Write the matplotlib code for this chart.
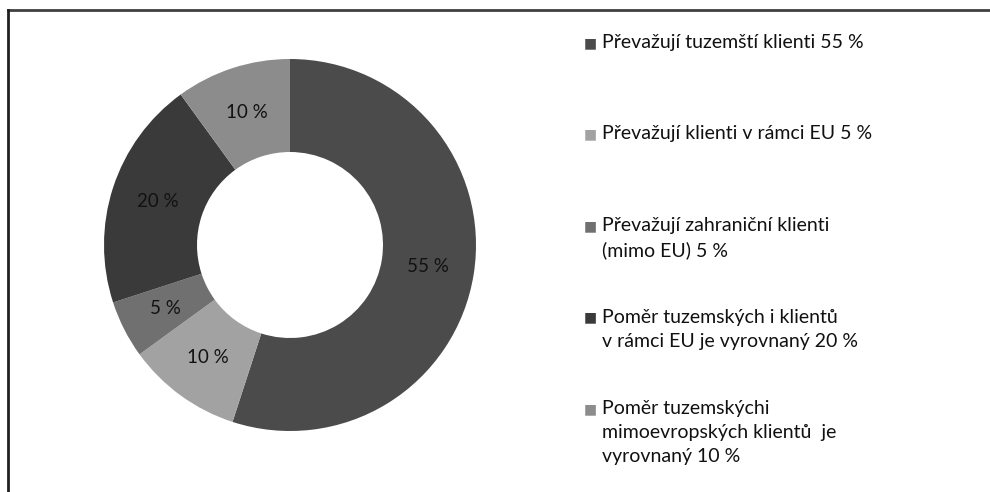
"""
Donut chart of client structure (share of domestic / EU / non-EU clients).

Output:
  - ./out.png
"""

import matplotlib.pyplot as plt
from matplotlib.lines import Line2D

# Slice values, clockwise from 12 o'clock
slice_values = [55, 10, 5, 20, 10]
slice_labels = ["55 %", "10 %", "5 %", "20 %", "10 %"]
slice_colors = ["#4b4b4b", "#a2a2a2", "#707070", "#3a3a3a", "#8c8c8c"]

# Legend texts as printed in the source (second entry says 5 %)
legend_texts = [
    "Převažují tuzemští klienti 55 %",
    "Převažují klienti v rámci EU 5 %",
    "Převažují zahraniční klienti\n(mimo EU) 5 %",
    "Poměr tuzemských i klientů\nv rámci EU je vyrovnaný 20 %",
    "Poměr tuzemskýchi\nmimoevropských klientů  je\nvyrovnaný 10 %",
]

W, H = 990, 492
FONT = ["Lato", "DejaVu Sans"]


def main() -> int:
    plt.rcParams["font.family"] = FONT
    fig = plt.figure(figsize=(W / 100, H / 100), dpi=100)

    # Donut: centre (290, 245) px from top-left, outer radius 186 px
    cx, cy, r = 290, 245, 186
    ax = fig.add_axes([(cx - r) / W, (H - cy - r) / H, 2 * r / W, 2 * r / H])
    ax.pie(
        slice_values,
        colors=slice_colors,
        startangle=90,
        counterclock=False,
        radius=1.0,
        labels=slice_labels,
        labeldistance=0.75,
        wedgeprops=dict(width=0.5, linewidth=0),
        textprops=dict(fontsize=13.5, color="#111111", ha="center", va="center"),
    )
    ax.set_xlim(-1, 1)
    ax.set_ylim(-1, 1)
    ax.set_aspect("equal")
    ax.axis("off")

    # Legend drawn by hand: first lines are evenly spaced regardless of wraps
    x_mark, x_text = 584, 602
    y0, step = 45, 91.5
    for i, (text, color) in enumerate(zip(legend_texts, slice_colors)):
        y = y0 + i * step
        fig.text(x_mark / W, 1 - (y - 2) / H, "\u25a0", color=color, fontsize=10,
                 ha="left", va="center", family=["DejaVu Sans"])
        fig.text(x_text / W, 1 - (y - 11) / H, text, fontsize=14,
                 color="#111111", ha="left", va="top", linespacing=1.5)

    # Frame: top and left edges only
    fig.add_artist(Line2D([7.5 / W, 1], [1 - 10 / H, 1 - 10 / H],
                          transform=fig.transFigure, color="#404040", lw=2))
    fig.add_artist(Line2D([7.5 / W, 7.5 / W], [0, 1 - 10 / H],
                          transform=fig.transFigure, color="#202020", lw=2))

    fig.savefig("out.png", dpi=100)
    plt.close(fig)
    return 0


if __name__ == "__main__":
    raise SystemExit(main())
